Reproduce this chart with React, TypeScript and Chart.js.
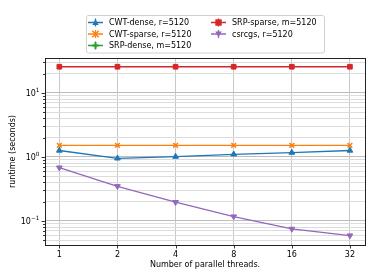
import React, { useEffect, useRef } from "react";
import { Chart, registerables } from "chart.js";

Chart.register(...registerables);

const THREADS = [1, 2, 4, 8, 16, 32];
const CWT_DENSE = [1.26, 0.95, 1.01, 1.1, 1.17, 1.26];
const CWT_SPARSE = [1.52, 1.52, 1.52, 1.52, 1.52, 1.52];
const SRP_DENSE: (number | null)[] = [null, null, null, null, null, null];
const SRP_SPARSE = [25.7, 25.7, 25.7, 25.7, 25.7, 25.7];
const CSRCGS = [0.68, 0.348, 0.196, 0.117, 0.075, 0.059];

const X_TICKS = [1, 2, 4, 8, 16, 32];
const Y_MAJOR = [0.1, 1, 10];
const Y_MINOR = [0.05, 0.06, 0.07, 0.08, 0.09, 0.2, 0.3, 0.4, 0.5, 0.6, 0.7, 0.8, 0.9, 2, 3, 4, 5, 6, 7, 8, 9, 20, 30];
const Y_EXPONENTS = ["\u22121", "0", "1"];

const SERIES = [
  { label: "CWT-dense, r=5120", data: CWT_DENSE, color: "#1f77b4", style: "triangle", rot: 0 },
  { label: "CWT-sparse, r=5120", data: CWT_SPARSE, color: "#ff7f0e", style: "crossRot", rot: 0 },
  { label: "SRP-dense, m=5120", data: SRP_DENSE, color: "#2ca02c", style: "cross", rot: 0 },
  { label: "SRP-sparse, m=5120", data: SRP_SPARSE, color: "#d62728", style: "rect", rot: 0 },
  { label: "csrcgs, r=5120", data: CSRCGS, color: "#9467bd", style: "triangle", rot: 180 },
];

const FONT = "DejaVu Sans";

function drawMarker(ctx: CanvasRenderingContext2D, style: string, rot: number, x: number, y: number, color: string) {
  ctx.save();
  ctx.translate(x, y);
  ctx.rotate((rot * Math.PI) / 180);
  ctx.fillStyle = color;
  ctx.strokeStyle = color;
  ctx.lineWidth = 1.5;
  const r = 3.2;
  ctx.beginPath();
  if (style === "triangle") {
    ctx.moveTo(0, -r);
    ctx.lineTo(r, r * 0.75);
    ctx.lineTo(-r, r * 0.75);
    ctx.closePath();
    ctx.fill();
  } else if (style === "rect") {
    ctx.rect(-r, -r, 2 * r, 2 * r);
    ctx.fill();
  } else if (style === "crossRot") {
    ctx.moveTo(-r, -r); ctx.lineTo(r, r);
    ctx.moveTo(r, -r); ctx.lineTo(-r, r);
    ctx.stroke();
  } else {
    ctx.moveTo(-r, 0); ctx.lineTo(r, 0);
    ctx.moveTo(0, -r); ctx.lineTo(0, r);
    ctx.lineWidth = 2;
    ctx.stroke();
  }
  ctx.restore();
}

const framePlugin = {
  id: "frame",
  afterDraw(chart: any) {
    const { ctx, chartArea: a, scales } = chart;
    ctx.save();
    // ticks
    ctx.strokeStyle = "#000";
    ctx.lineWidth = 0.8;
    const ys = scales.y;
    const xs = scales.x;
    ctx.beginPath();
    Y_MAJOR.forEach((v) => {
      const p = Math.round(ys.getPixelForValue(v)) + 0.5;
      ctx.moveTo(a.left - 3.5, p); ctx.lineTo(a.left, p);
    });
    Y_MINOR.forEach((v) => {
      const p = Math.round(ys.getPixelForValue(v)) + 0.5;
      if (p > a.top && p < a.bottom) { ctx.moveTo(a.left - 2, p); ctx.lineTo(a.left, p); }
    });
    X_TICKS.forEach((v) => {
      const p = Math.round(xs.getPixelForValue(v)) + 0.5;
      ctx.moveTo(p, a.bottom); ctx.lineTo(p, a.bottom + 3.5);
    });
    ctx.stroke();
    ctx.strokeStyle = "#222";
    ctx.lineWidth = 1;
    ctx.strokeRect(Math.round(a.left) + 0.5, Math.round(a.top) + 0.5, Math.round(a.right - a.left), Math.round(a.bottom - a.top));

    // y tick labels with superscripts
    ctx.fillStyle = "#000";
    ctx.textBaseline = "alphabetic";
    ctx.textAlign = "left";
    Y_MAJOR.forEach((v, i) => {
      const p = ys.getPixelForValue(v);
      ctx.font = `5.8px "${FONT}"`;
      const ew = ctx.measureText(Y_EXPONENTS[i]).width;
      ctx.font = `8px "${FONT}"`;
      const bw = ctx.measureText("10").width;
      const right = a.left - 5.5;
      const x0 = right - ew - bw;
      ctx.fillText("10", x0, p + 3);
      ctx.font = `5.8px "${FONT}"`;
      ctx.fillText(Y_EXPONENTS[i], x0 + bw, p - 1);
    });

    // legend
    const bx = 86.5, by = 15.5, bw = 238, bh = 37.5;
    ctx.fillStyle = "rgba(255,255,255,0.8)";
    ctx.strokeStyle = "#d0d0d0";
    ctx.lineWidth = 1;
    ctx.beginPath();
    (ctx as any).roundRect(bx, by, bw, bh, 2);
    ctx.fill();
    ctx.stroke();
    ctx.font = `8px "${FONT}"`;
    ctx.textBaseline = "middle";
    ctx.textAlign = "left";
    const cols = [88, 211];
    const rows = [22.5, 34, 45.5];
    SERIES.forEach((s, i) => {
      const col = i < 3 ? 0 : 1;
      const row = i < 3 ? i : i - 3;
      const x0 = cols[col];
      const y0 = rows[row];
      ctx.strokeStyle = s.color;
      ctx.lineWidth = 1.3;
      ctx.beginPath();
      ctx.moveTo(x0, y0); ctx.lineTo(x0 + 15, y0);
      ctx.moveTo(x0 + 7.5, y0 - 4); ctx.lineTo(x0 + 7.5, y0 + 4);
      ctx.stroke();
      drawMarker(ctx, s.style, s.rot, x0 + 7.5, y0, s.color);
      ctx.fillStyle = "#000";
      ctx.fillText(s.label, x0 + 21, y0 + 0.5);
    });
    ctx.restore();
  },
};

export default function App() {
  const ref = useRef<HTMLCanvasElement | null>(null);
  useEffect(() => {
    if (!ref.current) return;
    const chart = new Chart(ref.current, {
      type: "line",
      data: {
        datasets: SERIES.map((s) => ({
          label: s.label,
          data: THREADS.map((t, i) => ({ x: t, y: s.data[i] as any })),
          borderColor: s.color,
          backgroundColor: s.color,
          borderWidth: 1.3,
          pointStyle: s.style as any,
          pointRotation: s.rot,
          pointRadius: 3.3,
          pointBorderWidth: s.style === "crossRot" || s.style === "cross" ? 1.5 : 1,
          pointHoverRadius: 3.3,
          tension: 0,
        })),
      },
      options: {
        animation: false,
        responsive: false,
        maintainAspectRatio: false,
        events: [],
        layout: { padding: { top: 58, right: 9, left: 0, bottom: 0 } },
        plugins: { legend: { display: false }, tooltip: { enabled: false } },
        scales: {
          x: {
            type: "logarithmic",
            min: 0.843,
            max: 38.3,
            afterBuildTicks: (scale: any) => {
              scale.ticks = X_TICKS.map((v) => ({ value: v, major: true }));
            },
            afterFit: (scale: any) => { scale.height = 35; },
            grid: { color: "#c8c8c8", lineWidth: 1, drawTicks: true, tickLength: 3.5, tickColor: "transparent" },
            border: { display: false },
            ticks: {
              autoSkip: false,
              maxRotation: 0,
              padding: 2,
              color: "#000",
              font: { family: FONT, size: 8 },
              callback: (v: any) => String(v),
            },
            title: {
              display: true,
              text: "Number of parallel threads.",
              color: "#000",
              font: { family: FONT, size: 8 },
              padding: { top: 0, bottom: 10 },
            },
          },
          y: {
            type: "logarithmic",
            min: 0.042,
            max: 35.2,
            afterBuildTicks: (scale: any) => {
              const all = [...Y_MAJOR, ...Y_MINOR].sort((a, b) => a - b);
              scale.ticks = all.map((v) => ({ value: v, major: Y_MAJOR.includes(v) }));
            },
            afterFit: (scale: any) => { scale.width = 45; },
            grid: {
              color: (c: any) => (c.tick && c.tick.major ? "#bdbdbd" : "#dcdcdc"),
              lineWidth: 1,
              drawTicks: true,
              tickLength: 3.5,
              tickColor: "transparent",
            },
            border: { display: false },
            ticks: {
              autoSkip: false,
              padding: 2,
              color: "#000",
              font: { family: FONT, size: 8 },
              callback: () => "",
            },
            title: {
              display: true,
              text: "runtime (seconds)",
              color: "#000",
              font: { family: FONT, size: 8 },
              padding: { top: 8, bottom: 0 },
            },
          },
        },
      },
      plugins: [framePlugin],
    });
    return () => chart.destroy();
  }, []);
  return (
    <div style={{ position: "fixed", left: 0, top: 0, width: 374, height: 280, background: "#fff" }}>
      <canvas ref={ref} width={374} height={280} style={{ width: 374, height: 280 }} />
    </div>
  );
}
